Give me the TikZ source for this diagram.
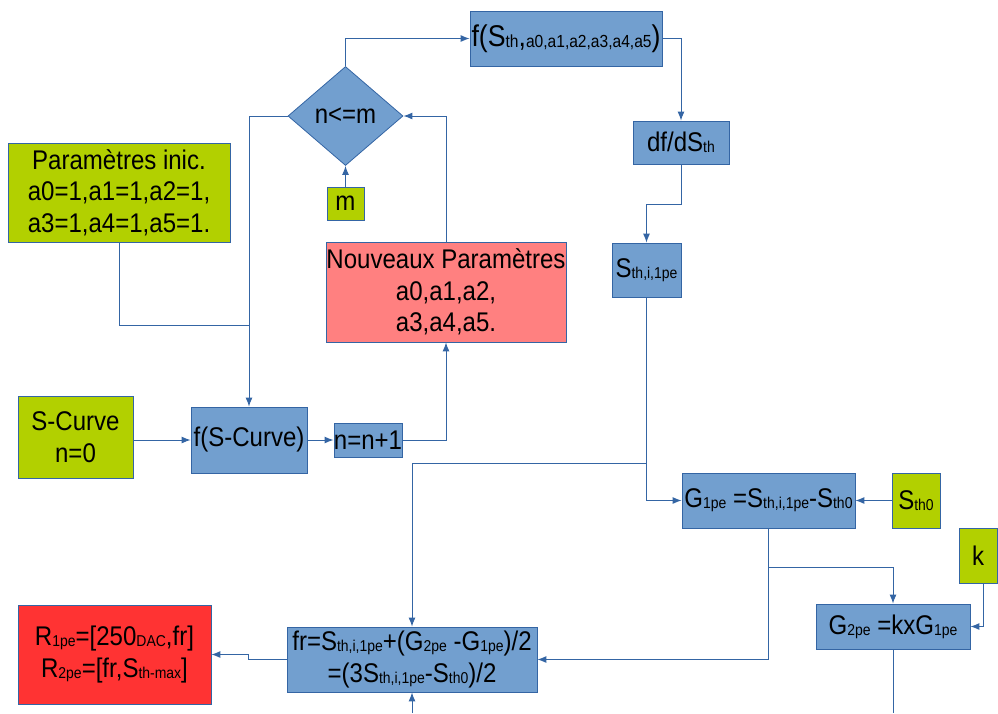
\documentclass[tikz,border=0pt]{standalone}
\usepackage{fontspec}
\setmainfont{Liberation Sans}[FakeStretch=0.89]
\usetikzlibrary{arrows.meta,shapes.geometric}
\definecolor{bfill}{HTML}{729FCF}
\definecolor{bline}{HTML}{3465A4}
\definecolor{gfill}{HTML}{B2D000}
\definecolor{lred}{HTML}{FF8080}
\definecolor{dred}{HTML}{FF3333}
\newcommand{\sbs}[1]{\raisebox{-1pt}{\fontsize{15.7}{16}\selectfont #1}}
\newcommand{\sbb}[1]{\raisebox{-1pt}{\fontsize{17.5}{18}\selectfont #1}}
\begin{document}
\begin{tikzpicture}[x=1pt,y=-1pt,
  box/.style={draw=bline, line width=0.8pt, inner sep=0pt, align=center, font=\fontsize{27}{31.5}\selectfont},
  bluebox/.style={box, fill=bfill},
  greenbox/.style={box, fill=gfill},
  lredbox/.style={box, fill=lred},
  redbox/.style={box, fill=dred},
  conn/.style={draw=bline, line width=1pt, -{Latex[length=9pt,width=7pt]}},
  plainline/.style={draw=bline, line width=1pt}]
\useasboundingbox (0,0) rectangle (998,713);
% nodes
\node[bluebox, minimum width=192pt, minimum height=55pt, font=\fontsize{30}{36}\selectfont] (ftop) at (566,38.5) {f(S\sbb{th},\sbb{a0,a1,a2,a3,a4,a5})};
\node[diamond, draw=bline, fill=bfill, line width=0.8pt, inner sep=0pt, minimum width=115pt, minimum height=99pt, font=\fontsize{27}{31.5}\selectfont] (diam) at (345.5,116) {n<=m};
\node[greenbox, minimum width=37pt, minimum height=33pt] (m) at (345.5,203.5) {m};
\node[greenbox, minimum width=222pt, minimum height=99pt] (params) at (119,192.5) {Paramètres inic.\\a0=1,a1=1,a2=1,\\a3=1,a4=1,a5=1.};
\node[lredbox, minimum width=240pt, minimum height=100pt] (nouv) at (446,292) {Nouveaux Paramètres\\a0,a1,a2,\\a3,a4,a5.};
\node[bluebox, minimum width=96pt, minimum height=43pt] (dfd) at (681,142.5) {df/dS\sbs{th}};
\node[bluebox, minimum width=69pt, minimum height=54pt] (sthi) at (646.5,270) {S\sbs{th,i,1pe}};
\node[greenbox, minimum width=115pt, minimum height=82pt] (scurve) at (75.5,437) {S-Curve\\n=0};
\node[bluebox, minimum width=116pt, minimum height=66pt] (fsc) at (249,440) {f(S-Curve)};
\node[bluebox, minimum width=68pt, minimum height=34pt] (nn1) at (368,440) {n=n+1};
\node[bluebox, minimum width=173pt, minimum height=55pt] (g1) at (768.5,500.5) {G\sbs{1pe} =S\sbs{th,i,1pe}-S\sbs{th0}};
\node[greenbox, minimum width=48pt, minimum height=55pt] (sth0) at (916,500.5) {S\sbs{th0}};
\node[greenbox, minimum width=38pt, minimum height=55pt] (k) at (978,555.5) {k};
\node[bluebox, minimum width=154pt, minimum height=45pt] (g2) at (893,626.5) {G\sbs{2pe} =kxG\sbs{1pe}};
\node[bluebox, minimum width=250pt, minimum height=65pt] (fr) at (412,659.5) {fr=S\sbs{th,i,1pe}+(G\sbs{2pe} -G\sbs{1pe})/2\\=(3S\sbs{th,i,1pe}-S\sbs{th0})/2};
\node[redbox, minimum width=193pt, minimum height=99pt] (red) at (114.5,654.5) {R\sbs{1pe}=[250\sbs{DAC},fr]\\R\sbs{2pe}=[fr,S\sbs{th-max}]};
% connectors
\draw[conn] (diam.north) |- (ftop.west);
\draw[conn] (ftop.east) -| (dfd.north);
\draw[conn] (dfd.south) -- ++(0,40) -| (sthi.north);
\draw[conn] (m.north) -- (diam.south);
\draw[conn] (diam.west) -| (fsc.north);
\coordinate (j1) at (249,325);
\draw[plainline] (params.south) |- (j1);
\draw[conn] (scurve.east |- fsc.west) -- (fsc.west);
\draw[conn] (fsc.east) -- (nn1.west);
\draw[conn] (nn1.east) -| (nouv.south);
\draw[conn] (nouv.north) |- (diam.east);
\draw[conn] (sthi.south) |- (g1.west);
\coordinate (j2) at (646.5,463);
\draw[conn] (j2) -| (fr.north);
\draw[conn] (sth0.west) -- (g1.east);
\coordinate (j3) at (768.5,567);
\draw[plainline] (g1.south) -- (j3);
\draw[conn] (j3) -| (g2.north);
\draw[conn] (j3) |- (fr.east);
\draw[conn] ([xshift=5pt]k.south) |- (g2.east);
\coordinate (e1) at (893,713);
\draw[plainline] (g2.south) -- (e1);
\coordinate (e2) at (412,713);
\draw[conn] (e2) -- (fr.south);
\draw[conn] (fr.west) -- ++(-38,0) |- (red.east);
\end{tikzpicture}
\end{document}
